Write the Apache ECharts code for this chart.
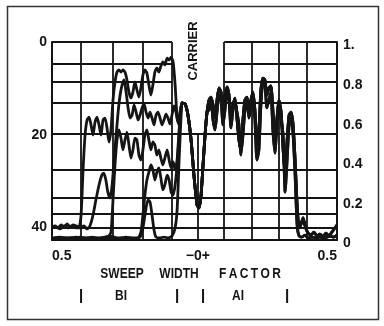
<!DOCTYPE html>
<html><head><meta charset="utf-8">
<script src="https://cdn.jsdelivr.net/npm/echarts@6/dist/echarts.min.js"></script>
<style>html,body{margin:0;padding:0;background:#fff}#c{width:384px;height:326px}</style>
</head><body><div id="c"></div>
<script>
// x = sweep width factor (-0.5 .. 0.5), y = relative amplitude (right axis, 0..1)
const curveA = [[-0.500,0.066],[-0.489,0.071],[-0.479,0.061],[-0.468,0.076],[-0.458,0.066],[-0.447,0.081],[-0.437,0.066],[-0.426,0.076],[-0.416,0.071],[-0.405,0.066],[-0.398,0.126],[-0.391,0.354],[-0.384,0.530],[-0.377,0.606],[-0.370,0.621],[-0.363,0.581],[-0.356,0.530],[-0.349,0.596],[-0.342,0.621],[-0.335,0.581],[-0.328,0.530],[-0.321,0.606],[-0.314,0.616],[-0.307,0.566],[-0.300,0.495],[-0.293,0.556],[-0.286,0.707],[-0.279,0.798],[-0.272,0.848],[-0.265,0.859],[-0.258,0.848],[-0.251,0.859],[-0.244,0.848],[-0.237,0.808],[-0.230,0.747],[-0.223,0.717],[-0.216,0.747],[-0.209,0.798],[-0.202,0.758],[-0.195,0.722],[-0.188,0.768],[-0.181,0.833],[-0.174,0.859],[-0.167,0.843],[-0.160,0.783],[-0.153,0.732],[-0.146,0.783],[-0.139,0.848],[-0.132,0.869],[-0.125,0.848],[-0.118,0.879],[-0.111,0.899],[-0.104,0.884],[-0.096,0.919],[-0.089,0.909],[-0.082,0.924],[-0.075,0.899],[-0.068,0.783],[-0.061,0.616],[-0.054,0.581],[-0.047,0.667]];
const curveB = [[-0.500,0.061],[-0.486,0.066],[-0.472,0.056],[-0.458,0.071],[-0.444,0.061],[-0.430,0.071],[-0.416,0.061],[-0.402,0.061],[-0.388,0.071],[-0.377,0.056],[-0.367,0.071],[-0.356,0.126],[-0.346,0.202],[-0.335,0.278],[-0.325,0.328],[-0.318,0.338],[-0.311,0.303],[-0.304,0.242],[-0.296,0.212],[-0.289,0.278],[-0.282,0.404],[-0.275,0.530],[-0.268,0.646],[-0.261,0.732],[-0.254,0.783],[-0.247,0.808],[-0.240,0.747],[-0.233,0.667],[-0.226,0.616],[-0.219,0.631],[-0.212,0.682],[-0.205,0.646],[-0.198,0.606],[-0.191,0.631],[-0.184,0.667],[-0.177,0.687],[-0.170,0.646],[-0.163,0.616],[-0.156,0.646],[-0.149,0.616],[-0.142,0.581],[-0.135,0.631],[-0.128,0.646],[-0.121,0.616],[-0.114,0.581],[-0.107,0.606],[-0.100,0.636],[-0.093,0.616],[-0.086,0.586],[-0.079,0.631],[-0.072,0.677],[-0.065,0.646],[-0.058,0.596],[-0.051,0.646]];
const curveC = [[-0.500,0.010],[-0.472,0.015],[-0.444,0.010],[-0.416,0.015],[-0.388,0.010],[-0.360,0.015],[-0.332,0.010],[-0.304,0.015],[-0.293,0.040],[-0.286,0.202],[-0.279,0.379],[-0.272,0.505],[-0.265,0.556],[-0.258,0.515],[-0.251,0.455],[-0.244,0.505],[-0.237,0.545],[-0.230,0.480],[-0.223,0.414],[-0.216,0.455],[-0.209,0.515],[-0.202,0.505],[-0.195,0.429],[-0.188,0.404],[-0.181,0.455],[-0.174,0.530],[-0.167,0.556],[-0.160,0.505],[-0.153,0.455],[-0.146,0.495],[-0.139,0.480],[-0.132,0.429],[-0.125,0.455],[-0.118,0.414],[-0.111,0.379],[-0.104,0.414],[-0.096,0.455],[-0.089,0.404],[-0.082,0.364],[-0.075,0.394],[-0.068,0.354],[-0.061,0.404],[-0.054,0.556],[-0.047,0.667]];
const curveD = [[-0.500,0.005],[-0.437,0.010],[-0.367,0.005],[-0.296,0.010],[-0.244,0.005],[-0.198,0.010],[-0.188,0.040],[-0.181,0.126],[-0.174,0.227],[-0.167,0.303],[-0.160,0.343],[-0.153,0.379],[-0.146,0.354],[-0.139,0.303],[-0.132,0.343],[-0.125,0.364],[-0.118,0.313],[-0.111,0.253],[-0.104,0.278],[-0.096,0.328],[-0.089,0.303],[-0.082,0.242],[-0.075,0.227],[-0.068,0.278],[-0.061,0.379],[-0.054,0.530],[-0.047,0.657]];
const curveE = [[-0.500,0.005],[-0.472,0.010],[-0.437,0.005],[-0.402,0.015],[-0.367,0.005],[-0.332,0.010],[-0.296,0.020],[-0.268,0.010],[-0.240,0.015],[-0.212,0.010],[-0.191,0.015],[-0.181,0.061],[-0.170,0.162],[-0.163,0.202],[-0.156,0.192],[-0.149,0.126],[-0.142,0.051],[-0.135,0.015],[-0.121,0.010],[-0.107,0.015],[-0.093,0.010],[-0.079,0.020],[-0.068,0.061],[-0.061,0.152],[-0.054,0.404],[-0.047,0.631]];
// carrier dip, shared by every trace
const carrierDip = [[-0.044,0.692],[-0.033,0.687],[-0.023,0.631],[-0.012,0.505],[-0.002,0.328],[0.009,0.177],[0.016,0.162],[0.023,0.227],[0.030,0.379],[0.037,0.530],[0.044,0.646]];
// A1 side, upper and lower trace
const sideA1High = [[0.051,0.707],[0.058,0.722],[0.065,0.682],[0.072,0.616],[0.079,0.707],[0.086,0.768],[0.093,0.747],[0.100,0.667],[0.107,0.727],[0.114,0.773],[0.121,0.732],[0.128,0.631],[0.135,0.682],[0.142,0.717],[0.149,0.616],[0.156,0.505],[0.163,0.455],[0.170,0.606],[0.177,0.707],[0.184,0.722],[0.191,0.667],[0.198,0.707],[0.205,0.747],[0.212,0.657],[0.219,0.480],[0.226,0.556],[0.233,0.758],[0.240,0.818],[0.247,0.808],[0.254,0.732],[0.261,0.768],[0.268,0.778],[0.275,0.657],[0.282,0.505],[0.289,0.606],[0.296,0.707],[0.304,0.646],[0.311,0.455],[0.318,0.328],[0.325,0.505],[0.332,0.631],[0.339,0.646],[0.346,0.581],[0.353,0.404],[0.360,0.177],[0.367,0.061],[0.374,0.081],[0.381,0.111],[0.388,0.071],[0.398,0.035],[0.409,0.025],[0.419,0.040],[0.430,0.020],[0.440,0.030],[0.451,0.015],[0.461,0.035],[0.472,0.020],[0.482,0.040],[0.493,0.061],[0.500,0.076]];
const sideA1Low = [[0.051,0.657],[0.058,0.707],[0.065,0.606],[0.072,0.556],[0.079,0.646],[0.086,0.732],[0.093,0.707],[0.100,0.581],[0.107,0.657],[0.114,0.747],[0.121,0.707],[0.128,0.566],[0.135,0.657],[0.142,0.697],[0.149,0.646],[0.156,0.581],[0.163,0.429],[0.170,0.530],[0.177,0.657],[0.184,0.707],[0.191,0.616],[0.198,0.667],[0.205,0.717],[0.212,0.606],[0.219,0.404],[0.226,0.455],[0.233,0.682],[0.240,0.798],[0.247,0.783],[0.254,0.667],[0.261,0.707],[0.268,0.747],[0.275,0.556],[0.282,0.439],[0.289,0.566],[0.296,0.667],[0.304,0.606],[0.311,0.530],[0.318,0.242],[0.325,0.404],[0.332,0.581],[0.339,0.616],[0.346,0.530],[0.353,0.328],[0.360,0.076],[0.367,0.020],[0.377,0.015],[0.388,0.025],[0.398,0.010],[0.412,0.015],[0.426,0.010],[0.440,0.015],[0.458,0.010],[0.475,0.020],[0.489,0.015],[0.500,0.025]];

// chart grid (as drawn on the original sheet)
const gridX = [-0.398, -0.288, -0.181, -0.079, 0.104, 0.202, 0.296, 0.395];
const carrierX = 0.012;
const gapX = [-0.079, 0.104];
const gridYUpper = [1, 0.889, 0.798, 0.692];
const gridYLower = [0.535, 0.354, 0.215, 0.131, 0.063];
const xTickValues = [-0.5, 0.012, 0.5];
const xTickLabels = ['0.5', '\u22120+', '0.5'];
const bandEdges = [-0.398, -0.061, 0.030, 0.325];
const bandNames = ['BI', 'AI'];
const bandNameX = [-0.258, 0.153];

const ink = '#141414';
const FONT = 'Liberation Sans, Arial, sans-serif';
const chart = echarts.init(document.getElementById('c'), null, {renderer: 'canvas'});

function curve(name, left, right) {
  return {name, type: 'line', xAxisIndex: 0, yAxisIndex: 1,
    data: left.concat(carrierDip, right), showSymbol: false, symbol: 'none',
    smooth: 0.2, lineStyle: {color: ink, width: 2.8}, silent: true, z: 3, animation: false};
}
const segs = [];
gridYUpper.forEach(v => {
  segs.push([{coord: [-0.5, v]}, {coord: [gapX[0], v]}]);
  segs.push([{coord: [gapX[1], v]}, {coord: [0.5, v]}]);
});
gridYLower.forEach(v => segs.push([{coord: [-0.5, v]}, {coord: [0.5, v]}]));
gridX.forEach(v => segs.push([{coord: [v, 0]}, {coord: [v, 1]}]));
segs.push([{coord: [carrierX, 0]}, {coord: [carrierX, gridYLower[0]]}]);

chart.setOption({
  animation: false,
  backgroundColor: '#fff',
  grid: {left: 52, right: 47, top: 42, bottom: 86},
  xAxis: {type: 'value', min: -0.5, max: 0.5, interval: 0.5,
    axisLine: {show: true, onZero: false, lineStyle: {color: ink, width: 2}},
    axisTick: {show: false}, splitLine: {show: false},
    axisLabel: {customValues: xTickValues,
      formatter: (v) => xTickLabels[xTickValues.reduce((b, t, i) => Math.abs(t - v) < Math.abs(xTickValues[b] - v) ? i : b, 0)],
      alignMinLabel: 'left', alignMaxLabel: 'right', margin: 9,
      color: ink, fontFamily: FONT, fontWeight: 'bold', fontSize: 14}},
  yAxis: [
    {type: 'value', min: 0, max: 42.7, interval: 20, inverse: true, position: 'left',
      axisLine: {show: true, onZero: false, lineStyle: {color: ink, width: 2}},
      axisTick: {show: false}, splitLine: {show: false},
      axisLabel: {margin: 5, color: ink, fontFamily: FONT, fontWeight: 'bold', fontSize: 14}},
    {type: 'value', min: 0, max: 1, interval: 0.2, position: 'right',
      axisLine: {show: true, onZero: false, lineStyle: {color: ink, width: 2}},
      axisTick: {show: false}, splitLine: {show: false},
      axisLabel: {margin: 6, verticalAlign: 'top', lineHeight: 7, color: ink, fontFamily: FONT, fontWeight: 'bold', fontSize: 14,
        formatter: v => v === 1 ? '1.' : (v === 0 ? '0' : v.toFixed(1))}}
  ],
  series: [
    {type: 'line', xAxisIndex: 0, yAxisIndex: 1, data: [], silent: true, z: 2,
      markLine: {symbol: ['none', 'none'], silent: true, animation: false,
        label: {show: false}, emphasis: {disabled: true},
        lineStyle: {color: ink, width: 1.8, type: 'solid'}, data: segs}},
    curve('A', curveA, sideA1High),
    curve('B', curveB, sideA1Low),
    curve('C', curveC, sideA1High),
    curve('D', curveD, sideA1Low),
    curve('E', curveE, sideA1High)
  ]
});

const px = v => chart.convertToPixel({xAxisIndex: 0}, v);
const txt = (s, x, y, size, sy) => ({type: 'text', x, y, scaleY: sy || 1,
  style: {text: s, fill: ink, font: 'bold ' + size + 'px ' + FONT, textAlign: 'center', textVerticalAlign: 'middle'}});
const g = [
  {type: 'rect', shape: {x: 7.5, y: 6.5, width: 371, height: 313}, style: {fill: 'none', stroke: '#333', lineWidth: 1.5}, silent: true},
  {type: 'text', x: 193, y: 51, rotation: Math.PI / 2, style: {text: 'CARRIER', fill: ink, font: 'bold 13px ' + FONT, textAlign: 'center', textVerticalAlign: 'middle'}},
  txt('SWEEP', 122, 274, 12, 1.2),
  txt('WIDTH', 179, 274, 12, 1.2),
  txt('F\u2009A\u2009C\u2009T\u2009O\u2009R', 250, 274, 12, 1.2)
];
bandEdges.forEach(v => g.push({type: 'line', shape: {x1: px(v), y1: 289, x2: px(v), y2: 303}, style: {stroke: ink, lineWidth: 2}, silent: true}));
bandNames.forEach((n, i) => g.push(txt(n, px(bandNameX[i]), 296, 12, 1.15)));
chart.setOption({graphic: g});
</script></body></html>
